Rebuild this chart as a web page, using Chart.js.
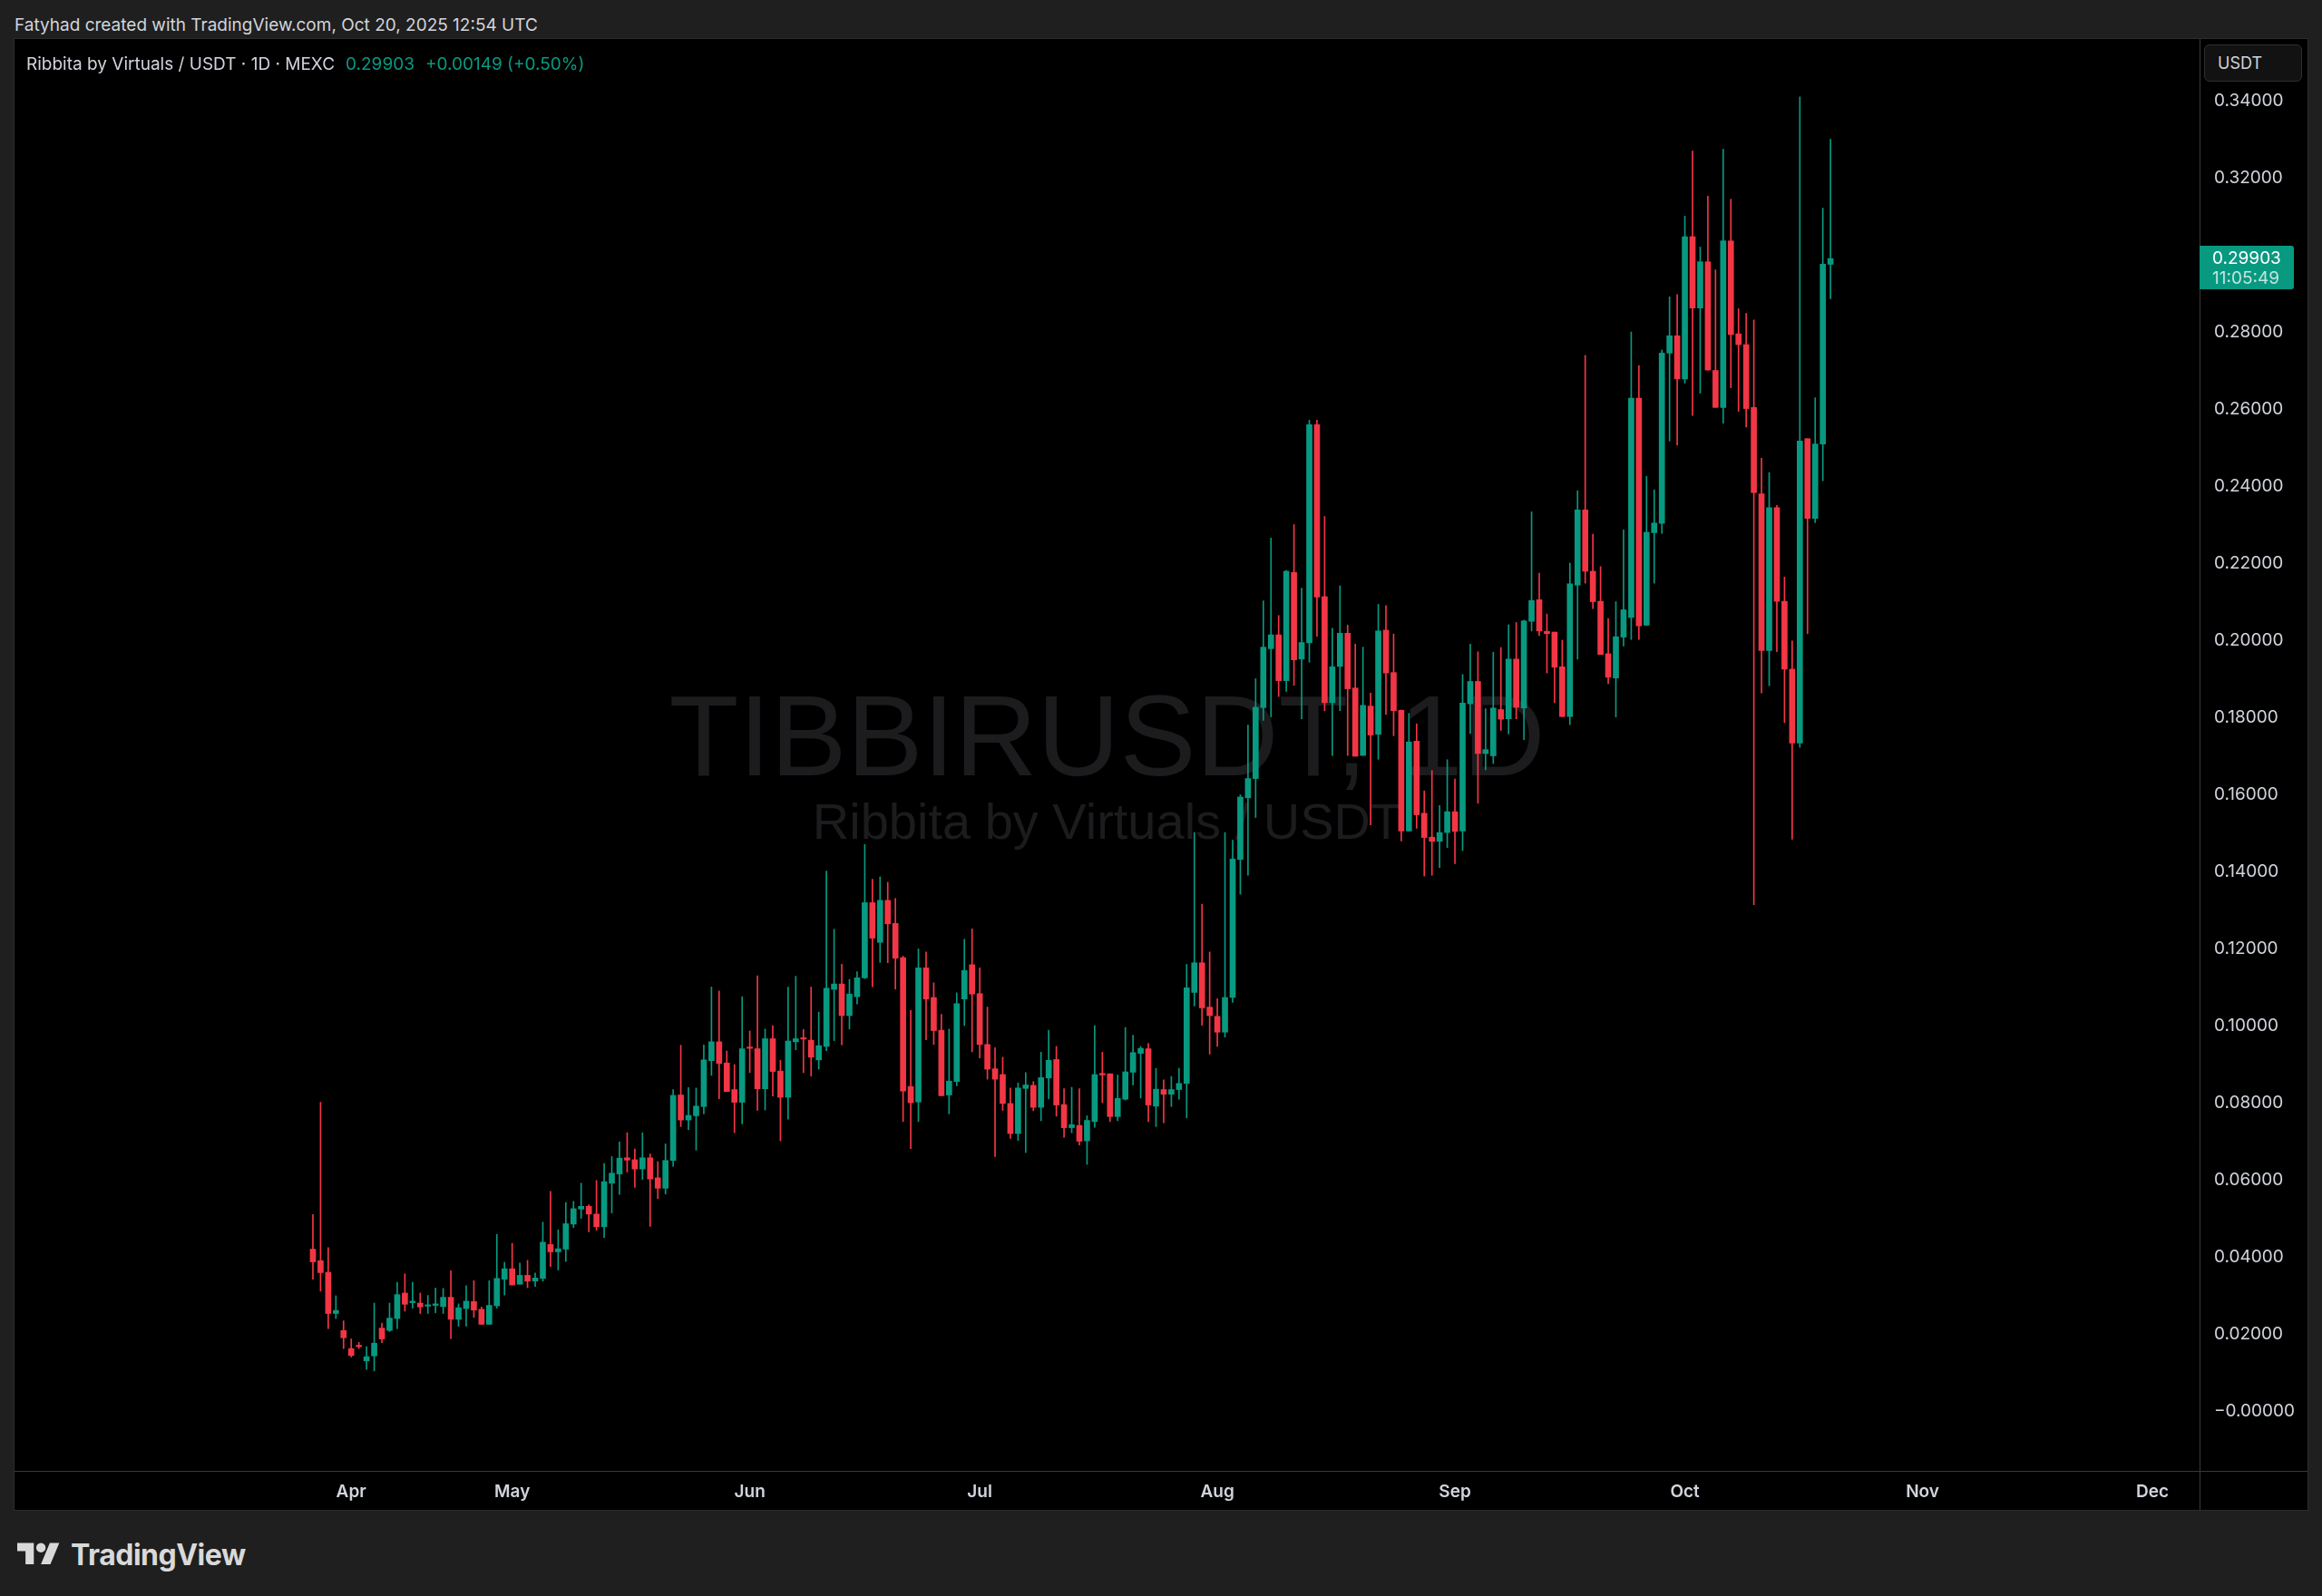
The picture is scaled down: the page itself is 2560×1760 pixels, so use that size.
<!DOCTYPE html>
<html>
<head>
<meta charset="utf-8">
<script src="https://cdn.jsdelivr.net/npm/chart.js@4.4.1/dist/chart.umd.min.js"></script>
<style>
  html, body { margin: 0; padding: 0; background: #1f1f1f; }
  body { width: 2560px; height: 1760px; position: relative; overflow: hidden; font-family: Inter, "Noto Sans", sans-serif; }
  .credit { position: absolute; left: 16px; top: 16px; font-size: 19px; line-height: 23px; color: #d1d4dc; white-space: nowrap; }
  .pane { position: absolute; left: 16px; top: 43px; width: 2528px; height: 1622px; background: #000; outline: 1px solid #2c2c2c; }
  .legend { position: absolute; left: 29px; top: 59px; font-size: 19px; line-height: 23px; color: #d1d4dc; white-space: nowrap; }
  .legend .up { color: #089981; margin-left: 12px; }
  .unit { position: absolute; left: 2430px; top: 49px; width: 108px; height: 41px; box-sizing: border-box; border: 1px solid #2f2f2f; border-radius: 6px; background: #121212; color: #d1d4dc; font-size: 18px; line-height: 39px; padding-left: 14px; }
  .brand { position: absolute; left: 19px; top: 1695px; display: flex; align-items: center; color: #d9d9d9; }
  .brand span { font-size: 32px; font-weight: 700; margin-left: 12px; letter-spacing: -0.5px; }
</style>
</head>
<body>
<div class="credit">Fatyhad created with TradingView.com, Oct 20, 2025 12:54 UTC</div>
<div class="pane"><canvas id="chart" width="2528" height="1622" style="width:2528px;height:1622px"></canvas></div>
<div class="legend" id="legend"></div>
<div class="unit">USDT</div>
<div class="brand">
  <svg width="47" height="37" viewBox="0 0 36 28"><path fill="#d9d9d9" d="M14 22H7V11H0V4h14v18zM28 22h-8l7.5-18h8L28 22z"/><circle fill="#d9d9d9" cx="20" cy="8" r="4"/></svg>
  <span>TradingView</span>
</div>
<script>
//Data//
const symbolText = "TIBBIRUSDT, 1D";
const pairName = "Ribbita by Virtuals / USDT";
const clockText = "11:05:49";

// daily candles, index 0 = Apr 5 2025, last = Oct 20 2025
const opens = [
  0.0420,0.0390,0.0360,0.0253,0.0209,0.0162,0.0169,0.0130,0.0143,0.0215,
  0.0209,0.0240,0.0306,0.0281,0.0280,0.0272,0.0274,0.0271,0.0295,0.0238,
  0.0266,0.0284,0.0264,0.0225,0.0273,0.0342,0.0369,0.0329,0.0352,0.0337,
  0.0344,0.0432,0.0413,0.0420,0.0485,0.0524,0.0531,0.0511,0.0478,0.0591,
  0.0615,0.0657,0.0652,0.0628,0.0657,0.0605,0.0578,0.0650,0.0820,0.0755,
  0.0766,0.0790,0.0909,0.0958,0.0903,0.0834,0.0801,0.0943,0.0940,0.0836,
  0.0966,0.0882,0.0814,0.0958,0.0967,0.0962,0.0911,0.0946,0.1094,0.1108,
  0.1026,0.1075,0.1124,0.1319,0.1216,0.1325,0.1265,0.1176,0.0842,0.0802,
  0.1150,0.1073,0.0988,0.0820,0.0855,0.1069,0.1158,0.1083,0.0951,0.0888,
  0.0873,0.0798,0.0720,0.0837,0.0845,0.0788,0.0864,0.0912,0.0795,0.0735,
  0.0741,0.0701,0.0751,0.0876,0.0875,0.0764,0.0809,0.0879,0.0928,0.0940,
  0.0791,0.0834,0.0822,0.0834,0.0850,0.1086,0.1163,0.1048,0.1024,0.0983,
  0.1073,0.1431,0.1591,0.1641,0.1825,0.1978,0.2014,0.1895,0.2176,0.1951,
  0.1993,0.2559,0.2113,0.1838,0.1932,0.2018,0.1876,0.1701,0.1829,0.1756,
  0.2026,0.1916,0.1818,0.1505,0.1738,0.1551,0.1489,0.1478,0.1501,0.1555,
  0.1505,0.1835,0.1893,0.1706,0.1700,0.1820,0.1796,0.1951,0.1824,0.2049,
  0.2105,0.2023,0.2021,0.1931,0.1802,0.2143,0.2338,0.2179,0.2101,0.1965,
  0.1902,0.2008,0.2059,0.2628,0.2039,0.2279,0.2303,0.2745,0.2790,0.2678,
  0.3047,0.2862,0.2982,0.2700,0.2604,0.3036,0.2795,0.2767,0.2604,0.2380,
  0.1973,0.2344,0.2101,0.1925,0.1733,0.2523,0.2316,0.2509,0.29754
];
const highs = [
  0.0510,0.0801,0.0424,0.0299,0.0234,0.0187,0.0178,0.0167,0.0280,0.0228,
  0.0280,0.0334,0.0356,0.0334,0.0306,0.0300,0.0319,0.0318,0.0364,0.0278,
  0.0325,0.0338,0.0270,0.0338,0.0458,0.0386,0.0435,0.0384,0.0391,0.0358,
  0.0490,0.0570,0.0470,0.0541,0.0544,0.0591,0.0535,0.0598,0.0642,0.0660,
  0.0698,0.0722,0.0680,0.0722,0.0667,0.0647,0.0693,0.0834,0.0949,0.0839,
  0.0838,0.0950,0.1100,0.1090,0.0934,0.0899,0.1075,0.0986,0.1129,0.0991,
  0.1000,0.0910,0.1100,0.1128,0.0990,0.1100,0.1035,0.1401,0.1250,0.1159,
  0.1120,0.1140,0.1470,0.1380,0.1386,0.1372,0.1330,0.1180,0.1039,0.1199,
  0.1191,0.1111,0.1029,0.0991,0.1085,0.1224,0.1251,0.1150,0.1048,0.0943,
  0.0918,0.0838,0.0851,0.0878,0.0855,0.0931,0.0988,0.0946,0.0836,0.0840,
  0.0836,0.0766,0.1000,0.0931,0.0875,0.0872,0.0995,0.0975,0.0946,0.0954,
  0.0889,0.0859,0.0868,0.0889,0.1159,0.1501,0.1315,0.1191,0.1070,0.1501,
  0.1481,0.1599,0.1780,0.1900,0.2102,0.2265,0.2064,0.2181,0.2300,0.2135,
  0.2571,0.2571,0.2321,0.2031,0.2141,0.2039,0.1990,0.1982,0.1863,0.2093,
  0.2090,0.2016,0.1819,0.1810,0.1783,0.1609,0.1662,0.1571,0.1690,0.1640,
  0.1911,0.1990,0.1970,0.1822,0.1969,0.1981,0.2040,0.2046,0.2052,0.2333,
  0.2174,0.2068,0.2021,0.2000,0.2200,0.2388,0.2739,0.2275,0.2191,0.2056,
  0.2100,0.2286,0.2800,0.2713,0.2425,0.2390,0.2753,0.2891,0.2897,0.3100,
  0.3269,0.3020,0.3152,0.2961,0.3274,0.3144,0.2860,0.2848,0.2831,0.2472,
  0.2435,0.2350,0.2164,0.1998,0.3410,0.2523,0.2629,0.3121,0.3300
];
const lows = [
  0.0342,0.0311,0.0214,0.0240,0.0162,0.0140,0.0162,0.0108,0.0104,0.0177,
  0.0206,0.0214,0.0259,0.0267,0.0253,0.0253,0.0255,0.0253,0.0188,0.0220,
  0.0220,0.0243,0.0225,0.0225,0.0267,0.0301,0.0327,0.0329,0.0320,0.0323,
  0.0337,0.0375,0.0366,0.0388,0.0476,0.0500,0.0465,0.0469,0.0450,0.0514,
  0.0562,0.0620,0.0580,0.0601,0.0479,0.0551,0.0563,0.0635,0.0738,0.0730,
  0.0677,0.0771,0.0871,0.0810,0.0829,0.0722,0.0745,0.0878,0.0780,0.0781,
  0.0817,0.0701,0.0757,0.0937,0.0878,0.0869,0.0887,0.0935,0.0961,0.0950,
  0.0991,0.1056,0.1122,0.1101,0.1164,0.1163,0.1095,0.0751,0.0681,0.0751,
  0.0963,0.0951,0.0818,0.0771,0.0844,0.1000,0.0932,0.0916,0.0861,0.0660,
  0.0780,0.0707,0.0702,0.0671,0.0779,0.0753,0.0810,0.0765,0.0710,0.0722,
  0.0690,0.0640,0.0736,0.0800,0.0751,0.0753,0.0807,0.0846,0.0812,0.0751,
  0.0738,0.0748,0.0790,0.0809,0.0761,0.1051,0.1001,0.0926,0.0946,0.0970,
  0.1060,0.1341,0.1390,0.1540,0.1792,0.1801,0.1854,0.1867,0.1883,0.1796,
  0.1943,0.2010,0.1817,0.1701,0.1817,0.1701,0.1699,0.1701,0.1521,0.1691,
  0.1807,0.1752,0.1479,0.1505,0.1512,0.1388,0.1390,0.1410,0.1462,0.1420,
  0.1454,0.1758,0.1577,0.1664,0.1680,0.1766,0.1757,0.1796,0.1742,0.2024,
  0.2012,0.1915,0.1838,0.1801,0.1781,0.1951,0.2148,0.2082,0.1963,0.1887,
  0.1801,0.1985,0.2002,0.2002,0.2038,0.2148,0.2277,0.2517,0.2506,0.2667,
  0.2583,0.2641,0.2701,0.2604,0.2563,0.2655,0.2594,0.2553,0.1314,0.1863,
  0.1882,0.1970,0.1786,0.1484,0.1722,0.2017,0.2305,0.2414,0.2886
];
const closes = [
  0.0387,0.0359,0.0253,0.0261,0.0190,0.0144,0.0167,0.0141,0.0176,0.0187,
  0.0241,0.0302,0.0277,0.0285,0.0270,0.0275,0.0278,0.0295,0.0238,0.0268,
  0.0285,0.0262,0.0225,0.0274,0.0344,0.0369,0.0327,0.0352,0.0337,0.0345,
  0.0438,0.0413,0.0421,0.0486,0.0525,0.0531,0.0511,0.0478,0.0595,0.0617,
  0.0656,0.0651,0.0628,0.0657,0.0602,0.0578,0.0650,0.0819,0.0755,0.0767,
  0.0791,0.0911,0.0958,0.0902,0.0829,0.0801,0.0940,0.0941,0.0836,0.0966,
  0.0881,0.0814,0.0960,0.0966,0.0965,0.0918,0.0948,0.1097,0.1108,0.1026,
  0.1082,0.1124,0.1319,0.1227,0.1325,0.1264,0.1175,0.0830,0.0800,0.1150,
  0.1069,0.0987,0.0818,0.0856,0.1057,0.1143,0.1082,0.0951,0.0887,0.0861,
  0.0798,0.0720,0.0838,0.0846,0.0788,0.0865,0.0910,0.0794,0.0735,0.0743,
  0.0700,0.0754,0.0873,0.0872,0.0764,0.0811,0.0880,0.0930,0.0941,0.0794,
  0.0835,0.0822,0.0834,0.0850,0.1098,0.1163,0.1046,0.1026,0.0983,0.1073,
  0.1432,0.1593,0.1641,0.1826,0.1982,0.2014,0.1895,0.2179,0.1949,0.1994,
  0.2559,0.2112,0.1838,0.1931,0.2018,0.1874,0.1699,0.1831,0.1754,0.2024,
  0.1915,0.1817,0.1505,0.1736,0.1547,0.1488,0.1478,0.1501,0.1555,0.1504,
  0.1837,0.1893,0.1706,0.1716,0.1824,0.1795,0.1951,0.1826,0.2050,0.2103,
  0.2024,0.2017,0.1930,0.1802,0.2146,0.2338,0.2179,0.2100,0.1963,0.1904,
  0.2009,0.2079,0.2628,0.2037,0.2280,0.2304,0.2745,0.2790,0.2678,0.3047,
  0.2862,0.2982,0.2701,0.2604,0.3036,0.2793,0.2767,0.2601,0.2383,0.1973,
  0.2344,0.2101,0.1925,0.1733,0.2517,0.2316,0.2509,0.29754,0.29903
];

// time axis: month label and the candle index it sits on
const monthNames = ["Apr", "May", "Jun", "Jul", "Aug", "Sep", "Oct", "Nov", "Dec"];
const monthIndex = [5, 26, 57, 87, 118, 149, 179, 210, 240];

// price axis
const priceTicks = [0, 0.02, 0.04, 0.06, 0.08, 0.10, 0.12, 0.14, 0.16, 0.18, 0.20, 0.22, 0.24, 0.26, 0.28, 0.30, 0.32, 0.34];

//Colors//
const upColor = "#089981";
const downColor = "#f23645";
const textColor = "#d1d4dc";
const lineColor = "#3a3a3a";

//Legend//
const last = closes.length - 1;
const change = closes[last] - closes[last - 1];
const changePct = change / closes[last - 1] * 100;
document.querySelector("#legend").innerHTML =
  `${pairName} · 1D · MEXC<span class="up">${closes[last].toFixed(5)}</span>` +
  `<span class="up">${change >= 0 ? "+" : ""}${change.toFixed(5)} (${change >= 0 ? "+" : ""}${changePct.toFixed(2)}%)</span>`;

//Chart//
const candleColors = closes.map((c, i) => (c >= opens[i] ? upColor : downColor));
const bodies = opens.map((o, i) => ({ x: i, y: [o, closes[i]] }));
const wicks = lows.map((l, i) => ({ x: i, y: [l, highs[i]] }));

const formatPrice = (v) => (Math.abs(v) < 1e-9 ? "\u22120.00000" : v.toFixed(5));

const overlayPlugin = {
  id: "overlay",
  beforeDatasetsDraw: (chart) => {
    const { ctx, chartArea } = chart;
    const cx = (chartArea.left + chartArea.right) / 2;
    const cy = (chartArea.top + chartArea.bottom) / 2;
    ctx.save();
    ctx.fillStyle = "#1c1c1e";
    ctx.textAlign = "center";
    ctx.textBaseline = "alphabetic";
    ctx.font = '126px "Liberation Sans", Arial, sans-serif';
    ctx.fillText(symbolText, cx, cy + 22);
    ctx.font = '56px "Liberation Sans", Arial, sans-serif';
    ctx.fillText(pairName, cx, cy + 92);
    ctx.restore();
  },
  afterDraw: (chart) => {
    const { ctx, chartArea, width, height } = chart;
    ctx.save();
    ctx.strokeStyle = lineColor;
    ctx.lineWidth = 1;
    ctx.beginPath();
    ctx.moveTo(Math.round(chartArea.right) + 0.5, 0);
    ctx.lineTo(Math.round(chartArea.right) + 0.5, height);
    ctx.moveTo(0, Math.round(chartArea.bottom) + 0.5);
    ctx.lineTo(width, Math.round(chartArea.bottom) + 0.5);
    ctx.stroke();

    // last price tag on the price scale
    const y = chart.scales.y.getPixelForValue(closes[last]);
    const x = chartArea.right;
    ctx.fillStyle = upColor;
    ctx.beginPath();
    ctx.roundRect(x, y - 14, 104, 48, [0, 3, 3, 0]);
    ctx.fill();
    ctx.textAlign = "left";
    ctx.textBaseline = "middle";
    ctx.font = "19px Inter, sans-serif";
    ctx.fillStyle = "#ffffff";
    ctx.fillText(closes[last].toFixed(5), x + 14, y);
    ctx.fillStyle = "rgba(255,255,255,0.75)";
    ctx.fillText(clockText, x + 14, y + 22);
    ctx.restore();
  },
};

const chart = new Chart(document.querySelector("#chart"), {
  type: "bar",
  data: {
    datasets: [
      {
        label: "body",
        data: bodies,
        backgroundColor: candleColors,
        barThickness: 6,
        minBarLength: 1.5,
        grouped: false,
        order: 0,
      },
      {
        label: "wick",
        data: wicks,
        backgroundColor: candleColors,
        barThickness: 1,
        grouped: false,
        order: 1,
      },
    ],
  },
  options: {
    responsive: false,
    animation: false,
    layout: { padding: 0 },
    plugins: { legend: { display: false }, tooltip: { enabled: false } },
    scales: {
      x: {
        type: "linear",
        min: -38.93,
        max: 246.15,
        offset: false,
        afterBuildTicks: (scale) => { scale.ticks = monthIndex.map((v) => ({ value: v })); },
        afterFit: (scale) => {
          scale.height = 43;
          scale.paddingLeft = 0;
          scale.paddingRight = 0;
        },
        grid: { display: false },
        border: { display: false },
        ticks: {
          autoSkip: false,
          maxRotation: 0,
          padding: 4,
          color: textColor,
          font: { family: "Inter", size: 19, weight: "600" },
          callback: (value, index) => monthNames[index],
        },
      },
      y: {
        position: "right",
        min: -0.01553,
        max: 0.356,
        afterBuildTicks: (scale) => { scale.ticks = priceTicks.map((v) => ({ value: v })); },
        afterFit: (scale) => {
          scale.width = 119;
          scale.paddingTop = 0;
          scale.paddingBottom = 0;
        },
        grid: { display: false },
        border: { display: false },
        ticks: {
          padding: 8,
          color: textColor,
          font: { family: "Inter", size: 19 },
          callback: (value) => formatPrice(value),
        },
      },
    },
  },
  plugins: [overlayPlugin],
});
</script>
</body>
</html>
